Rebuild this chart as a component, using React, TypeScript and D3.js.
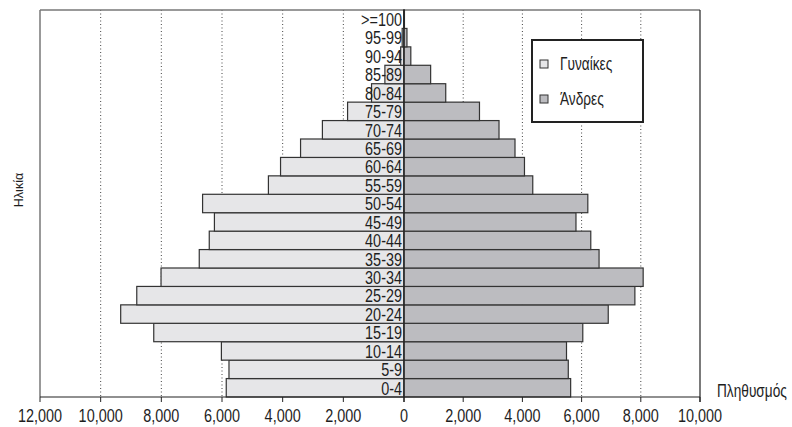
import React from "react";
import * as d3 from "d3";

const ageGroups = ["0-4","5-9","10-14","15-19","20-24","25-29","30-34","35-39","40-44","45-49","50-54","55-59","60-64","65-69","70-74","75-79","80-84","85-89","90-94","95-99",">=100"];
const female = [5860,5770,6020,8250,9340,8810,8010,6750,6420,6250,6640,4470,4070,3410,2690,1860,1070,630,110,60,10];
const male = [5630,5550,5490,6040,6900,7800,8080,6590,6310,5810,6210,4350,4070,3750,3210,2550,1410,900,230,100,15];
const leftTicks = [12000,10000,8000,6000,4000,2000];
const rightTicks = [0,2000,4000,6000,8000,10000];
const legendLabels = ["Γυναίκες","Άνδρες"];
const yTitle = "Ηλικία";
const xTitle = "Πληθυσμός";

const W = 792, H = 427;
const top = 10, bottom = 397, left = 40, right = 700, center = 404;
const FONT = "'Liberation Sans', Arial, sans-serif";
const FEMALE_FILL = "#e6e6e8";
const MALE_FILL = "#bcbcc0";
const SX = 0.76;

function T(props: { x: number; y: number; anchor?: "start" | "middle" | "end"; size: number; dy?: string; children: React.ReactNode }) {
  const { x, y, anchor = "start", size, dy, children } = props;
  return (
    <text transform={`translate(${x},${y}) scale(${SX},1)`} textAnchor={anchor} fontSize={size} dy={dy} fill="#1e1e1e">{children}</text>
  );
}

export default function App() {
  const xL = d3.scaleLinear().domain([0, 12000]).range([center, left]);
  const xR = d3.scaleLinear().domain([0, 10000]).range([center, right]);
  const y = d3.scaleBand().domain(ageGroups).range([bottom, top]).padding(0);
  const fmt = d3.format(",");
  const bw = y.bandwidth();

  return (
    <div style={{ position: "fixed", left: 0, top: 0 }}>
      <svg width={W} height={H} style={{ display: "block", background: "#fff" }} fontFamily={FONT}>
        {/* gridlines */}
        {leftTicks.filter(t => t !== 12000).map(t => (
          <line key={"gl" + t} x1={xL(t)} x2={xL(t)} y1={top} y2={bottom} stroke="#444" strokeWidth={1} strokeDasharray="1,2.5" />
        ))}
        {rightTicks.filter(t => t !== 0 && t !== 10000).map(t => (
          <line key={"gr" + t} x1={xR(t)} x2={xR(t)} y1={top} y2={bottom} stroke="#444" strokeWidth={1} strokeDasharray="1,2.5" />
        ))}
        {/* frame */}
        <line x1={left} x2={right} y1={top} y2={top} stroke="#777" strokeWidth={1.5} />
        <line x1={left} x2={left} y1={top} y2={bottom} stroke="#777" strokeWidth={1.5} />
        <line x1={right} x2={right} y1={top} y2={bottom + 5} stroke="#222" strokeWidth={1.2} />
        {/* bars */}
        {ageGroups.map((g, i) => (
          <g key={g}>
            <rect x={xL(female[i])} y={y(g)!} width={center - xL(female[i])} height={bw} fill={FEMALE_FILL} stroke="#333" strokeWidth={1.2} />
            <rect x={center} y={y(g)!} width={xR(male[i]) - center} height={bw} fill={MALE_FILL} stroke="#333" strokeWidth={1.2} />
          </g>
        ))}
        {/* center line */}
        <line x1={center} x2={center} y1={top} y2={bottom + 5} stroke="#222" strokeWidth={1.2} />
        {/* age labels */}
        {ageGroups.map(g => (
          <T key={"l" + g} x={center - 2} y={y(g)! + bw / 2} dy="0.36em" anchor="end" size={19}>{g}</T>
        ))}
        {/* x axis */}
        <line x1={left} x2={right} y1={bottom} y2={bottom} stroke="#222" strokeWidth={1.2} />
        {leftTicks.map(t => (
          <g key={"tl" + t}>
            <line x1={xL(t)} x2={xL(t)} y1={bottom} y2={bottom + 5} stroke="#222" strokeWidth={1} />
            <T x={xL(t)} y={422} anchor="middle" size={19}>{fmt(t)}</T>
          </g>
        ))}
        {rightTicks.map(t => (
          <g key={"tr" + t}>
            <line x1={xR(t)} x2={xR(t)} y1={bottom} y2={bottom + 5} stroke="#222" strokeWidth={1} />
            <T x={xR(t)} y={422} anchor="middle" size={19}>{fmt(t)}</T>
          </g>
        ))}
        {/* axis titles */}
        <T x={717} y={397} size={18}>{xTitle}</T>
        <text transform="translate(23,190) rotate(-90)" textAnchor="middle" fontSize={12.5} fill="#1e1e1e">{yTitle}</text>
        {/* legend */}
        <rect x={532} y={40} width={111} height={82} fill="#fff" stroke="#222" strokeWidth={2} />
        {legendLabels.map((l, i) => (
          <g key={l}>
            <rect x={540} y={60 + i * 35} width={8} height={8} fill={i === 0 ? FEMALE_FILL : MALE_FILL} stroke="#333" strokeWidth={1} />
            <T x={560} y={64 + i * 35} dy="0.36em" size={18}>{l}</T>
          </g>
        ))}
      </svg>
    </div>
  );
}
